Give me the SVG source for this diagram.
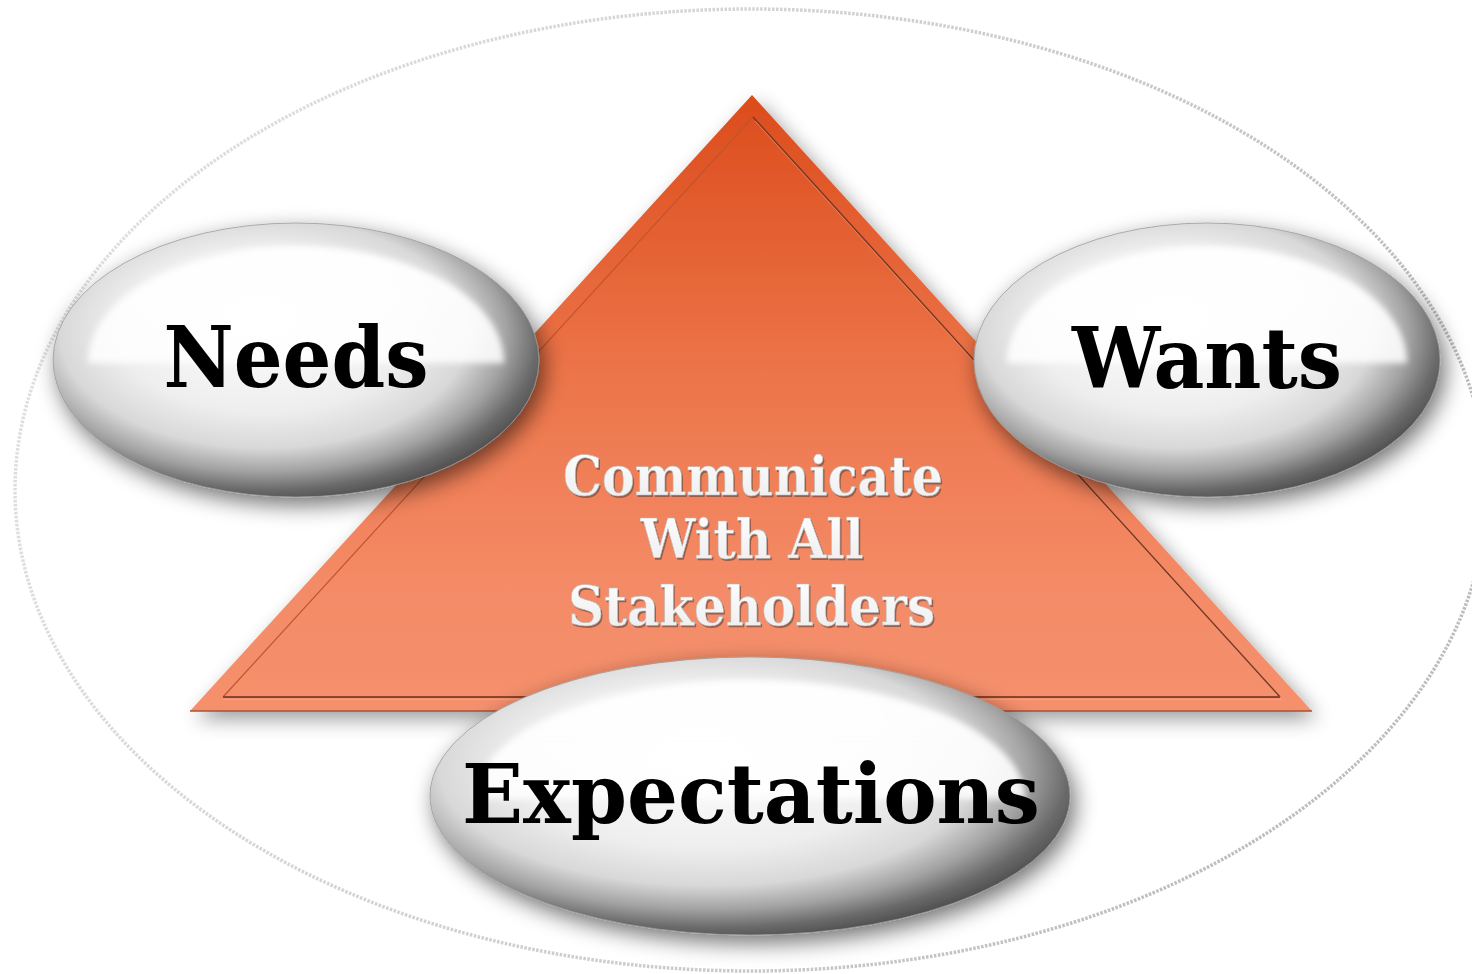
<svg xmlns="http://www.w3.org/2000/svg" width="1472" height="974" viewBox="0 0 1472 974">
<defs>
<style>
.lbl{font-family:"DejaVu Serif","Liberation Serif",serif;font-weight:bold;fill:#000;text-anchor:middle}
.ctr{font-family:"DejaVu Serif","Liberation Serif",serif;font-weight:bold;font-size:54px;text-anchor:middle}
.ctrsh{fill:#7a5244;opacity:0.75}
.ctrfg{fill:url(#txtfill);stroke:#b8b8b8;stroke-width:0.6}
.pearl{fill:url(#pearl);stroke:#9a9a9a;stroke-width:0.8}
.hl{fill:url(#hlgrad);filter:url(#soft)}
</style>
<linearGradient id="outerStroke" x1="0" y1="0" x2="1" y2="0.3">
<stop offset="0" stop-color="#e2e2e2"/>
<stop offset="0.5" stop-color="#d2d2d2"/>
<stop offset="1" stop-color="#bdbdbd"/>
</linearGradient>
<linearGradient id="triGrad" gradientUnits="userSpaceOnUse" x1="0" y1="95" x2="0" y2="711">
<stop offset="0" stop-color="#dc4c1c"/>
<stop offset="0.45" stop-color="#ec7449"/>
<stop offset="0.8" stop-color="#f48b67"/>
<stop offset="1" stop-color="#f5906d"/>
</linearGradient>
<radialGradient id="pearl" cx="0.44" cy="0.42" r="0.6" fx="0.42" fy="0.36">
<stop offset="0" stop-color="#ffffff"/>
<stop offset="0.5" stop-color="#eeeeee"/>
<stop offset="0.7" stop-color="#d8d8d8"/>
<stop offset="0.83" stop-color="#a2a2a2"/>
<stop offset="0.93" stop-color="#6a6a6a"/>
<stop offset="1" stop-color="#505050"/>
</radialGradient>
<linearGradient id="hlgrad" x1="0" y1="0" x2="0" y2="1">
<stop offset="0" stop-color="#ffffff" stop-opacity="0.97"/>
<stop offset="1" stop-color="#ffffff" stop-opacity="0.85"/>
</linearGradient>
<linearGradient id="txtfill" x1="0" y1="0" x2="0" y2="1">
<stop offset="0" stop-color="#ffffff"/>
<stop offset="1" stop-color="#ececec"/>
</linearGradient>
<filter id="shadow" x="-20%" y="-20%" width="150%" height="160%">
<feGaussianBlur in="SourceAlpha" stdDeviation="11"/>
<feOffset dx="5" dy="8" result="b"/>
<feComponentTransfer><feFuncA type="linear" slope="0.55"/></feComponentTransfer>
<feMerge><feMergeNode/><feMergeNode in="SourceGraphic"/></feMerge>
</filter>
<filter id="trishadow" x="-10%" y="-10%" width="130%" height="130%">
<feGaussianBlur in="SourceAlpha" stdDeviation="10"/>
<feOffset dx="6" dy="8"/>
<feComponentTransfer><feFuncA type="linear" slope="0.4"/></feComponentTransfer>
<feMerge><feMergeNode/><feMergeNode in="SourceGraphic"/></feMerge>
</filter>
<filter id="soft" x="-10%" y="-10%" width="120%" height="130%">
<feGaussianBlur stdDeviation="3"/>
</filter>
</defs>

<rect x="0" y="0" width="1472" height="974" fill="#ffffff"/>

<g id="outer-ring">
<ellipse cx="751" cy="490" rx="736" ry="481" fill="none" stroke="url(#outerStroke)" stroke-width="3.5" stroke-dasharray="2.5 1.5"/>
</g>

<g id="triangle">
<polygon points="752,95 190,711 1312,711" fill="url(#triGrad)" filter="url(#trishadow)"/>
<polyline points="223,697 753,117" fill="none" stroke="#c2542c" stroke-width="1.2"/>
<polyline points="753,117 1280,697" fill="none" stroke="#7a3a25" stroke-width="1.6"/>
<polyline points="755,121 1277,695" fill="none" stroke="#f8a27f" stroke-width="0.8" opacity="0.7"/>
<line x1="223" y1="697" x2="1280" y2="697" stroke="#8a4530" stroke-width="2"/>
<line x1="223" y1="699.5" x2="1282" y2="699.5" stroke="#f9a584" stroke-width="1" opacity="0.8"/>
<line x1="190" y1="711" x2="1312" y2="711" stroke="#a35538" stroke-width="1.6"/>
<g id="center-text">
<text class="ctr ctrsh" x="754.5" y="496.5" textLength="380" lengthAdjust="spacingAndGlyphs">Communicate</text>
<text class="ctr ctrfg" x="753" y="495" textLength="380" lengthAdjust="spacingAndGlyphs">Communicate</text>
<text class="ctr ctrsh" x="753.5" y="559.5" textLength="223" lengthAdjust="spacingAndGlyphs">With All</text>
<text class="ctr ctrfg" x="752" y="558" textLength="223" lengthAdjust="spacingAndGlyphs">With All</text>
<text class="ctr ctrsh" x="753" y="626.5" textLength="367" lengthAdjust="spacingAndGlyphs">Stakeholders</text>
<text class="ctr ctrfg" x="751.5" y="625" textLength="367" lengthAdjust="spacingAndGlyphs">Stakeholders</text>
</g>
</g>

<g id="needs">
<ellipse class="pearl" cx="296" cy="360" rx="243" ry="137" filter="url(#shadow)"/>
<path class="hl" d="M 88 363 A 208 117 0 0 1 504 363 Z"/>
<text class="lbl" x="296" y="387" font-size="85" textLength="265" lengthAdjust="spacingAndGlyphs">Needs</text>
</g>

<g id="wants">
<ellipse class="pearl" cx="1207" cy="360" rx="233" ry="137" filter="url(#shadow)"/>
<path class="hl" d="M 1007 363 A 200 117 0 0 1 1407 363 Z"/>
<text class="lbl" x="1207" y="388" font-size="85" textLength="270" lengthAdjust="spacingAndGlyphs">Wants</text>
</g>

<g id="expectations">
<ellipse class="pearl" cx="750" cy="796" rx="320" ry="139" filter="url(#shadow)"/>
<path class="hl" d="M 475 799 A 275 119 0 0 1 1025 799 Z"/>
<text class="lbl" x="751" y="823" font-size="82" textLength="578" lengthAdjust="spacingAndGlyphs">Expectations</text>
</g>

<g id="connectors"/>
</svg>
